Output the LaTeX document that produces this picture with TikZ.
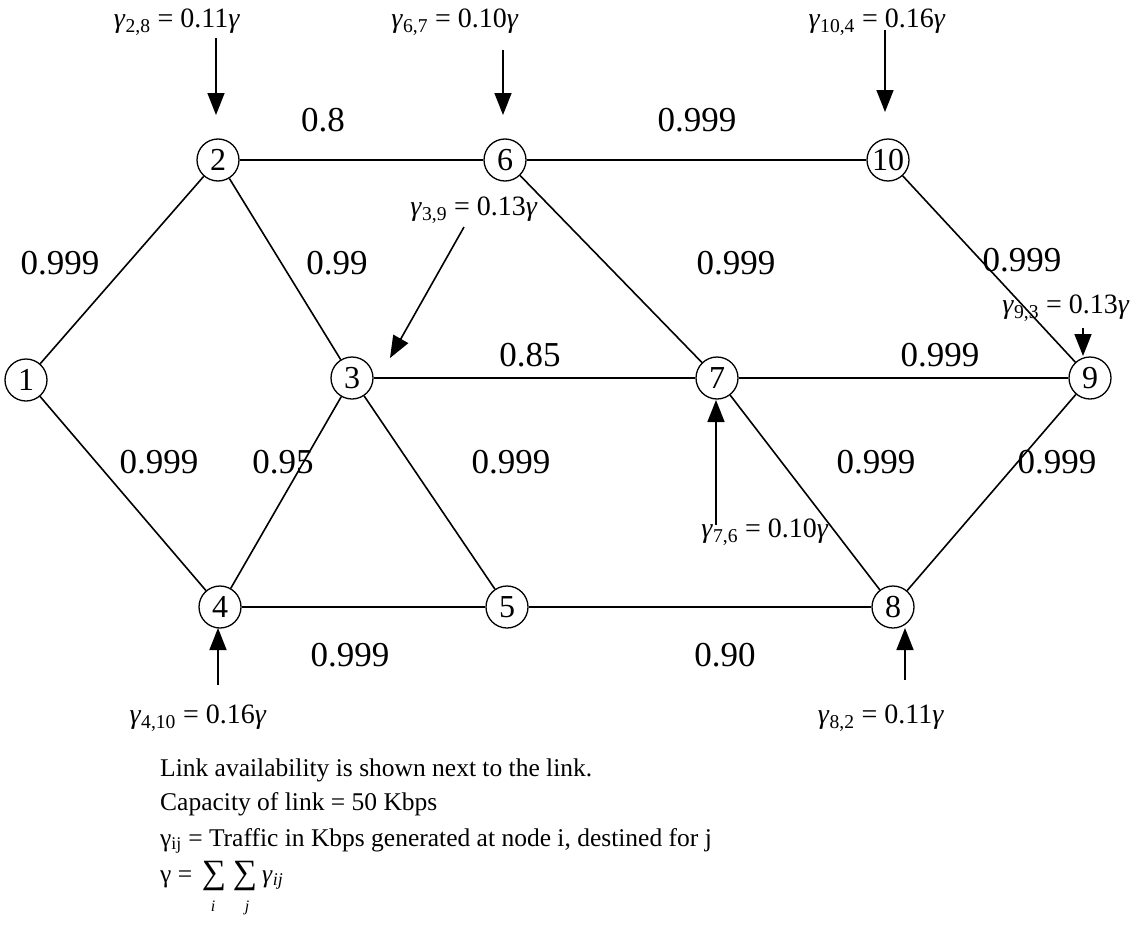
\documentclass[tikz,border=0pt]{standalone}
\usepackage{fontspec}
\setmainfont{Liberation Serif}
\usetikzlibrary{arrows.meta}
\newcommand\gm{\textit{γ}}
\begin{document}
\begin{tikzpicture}[x=1pt,y=-1pt,
  vtx/.style={circle,draw,line width=1.3pt,minimum size=42pt,inner sep=0pt,font=\fontsize{32}{32}\selectfont},
  link/.style={line width=1.6pt},
  lbl/.style={font=\fontsize{35}{35}\selectfont,inner sep=0pt},
  traf/.style={font=\fontsize{28}{28}\selectfont,inner sep=0pt},
  inarrow/.style={line width=1.6pt,-{Triangle[length=22pt,width=17pt]}},
  note/.style={font=\fontsize{25.5}{30}\selectfont,anchor=base west,inner sep=0pt},
  sumop/.style={font=\fontsize{34}{34}\selectfont,inner sep=0pt},
  idx/.style={font=\fontsize{16}{16}\selectfont\itshape,inner sep=0pt}]
\useasboundingbox (0,0) rectangle (1145,934);

% nodes
\node[vtx] (n1)  at (26,380)  {1};
\node[vtx] (n2)  at (218,160) {2};
\node[vtx] (n6)  at (505,160) {6};
\node[vtx] (n10) at (888,160) {10};
\node[vtx] (n3)  at (352,378) {3};
\node[vtx] (n7)  at (717,378) {7};
\node[vtx] (n9)  at (1090,378) {9};
\node[vtx] (n4)  at (220,607) {4};
\node[vtx] (n5)  at (507,607) {5};
\node[vtx] (n8)  at (893,607) {8};

% links
\draw[link] (n1) -- (n2);
\draw[link] (n1) -- (n4);
\draw[link] (n2) -- (n6);
\draw[link] (n2) -- (n3);
\draw[link] (n6) -- (n10);
\draw[link] (n6) -- (n7);
\draw[link] (n10) -- (n9);
\draw[link] (n3) -- (n7);
\draw[link] (n3) -- (n4);
\draw[link] (n3) -- (n5);
\draw[link] (n7) -- (n9);
\draw[link] (n7) -- (n8);
\draw[link] (n9) -- (n8);
\draw[link] (n4) -- (n5);
\draw[link] (n5) -- (n8);

% link availabilities
\node[lbl] (a26)  at (323,120)  {0.8};
\node[lbl] (a610) at (697,120)  {0.999};
\node[lbl] (a12)  at (60,263)   {0.999};
\node[lbl] (a23)  at (337,263)  {0.99};
\node[lbl] (a67)  at (736,263)  {0.999};
\node[lbl] (a109) at (1022,260) {0.999};
\node[lbl] (a37)  at (530,355)  {0.85};
\node[lbl] (a79)  at (940,355)  {0.999};
\node[lbl] (a14)  at (159,462)  {0.999};
\node[lbl] (a34)  at (283,462)  {0.95};
\node[lbl] (a35)  at (511,462)  {0.999};
\node[lbl] (a78)  at (876,462)  {0.999};
\node[lbl] (a98)  at (1057,462) {0.999};
\node[lbl] (a45)  at (350,655)  {0.999};
\node[lbl] (a58)  at (725,655)  {0.90};

% traffic labels
\node[traf] (t28)  at (177,22)  {\gm\textsubscript{2,8} = 0.11\gm};
\node[traf] (t67)  at (455,22)  {\gm\textsubscript{6,7} = 0.10\gm};
\node[traf] (t104) at (877,22)  {\gm\textsubscript{10,4} = 0.16\gm};
\node[traf] (t39)  at (474,210) {\gm\textsubscript{3,9} = 0.13\gm};
\node[traf] (t93)  at (1066,308) {\gm\textsubscript{9,3} = 0.13\gm};
\node[traf] (t76)  at (765,532) {\gm\textsubscript{7,6} = 0.10\gm};
\node[traf] (t410) at (198,718) {\gm\textsubscript{4,10} = 0.16\gm};
\node[traf] (t82)  at (881,718) {\gm\textsubscript{8,2} = 0.11\gm};

% traffic arrows
\coordinate (s28) at (216,38);   \coordinate (e28) at (216,115);
\coordinate (s67) at (503,50);   \coordinate (e67) at (503,115);
\coordinate (s104) at (885,30);  \coordinate (e104) at (885,112);
\coordinate (s39) at (464,227);  \coordinate (e39) at (390,358);
\coordinate (s93) at (1083,328); \coordinate (e93) at (1083,356);
\coordinate (s76) at (716,525);  \coordinate (e76) at (716,400);
\coordinate (s410) at (218,685); \coordinate (e410) at (218,628);
\coordinate (s82) at (905,680);  \coordinate (e82) at (905,628);
\draw[inarrow] (s28) -- (e28);
\draw[inarrow] (s67) -- (e67);
\draw[inarrow] (s104) -- (e104);
\draw[inarrow] (s39) -- (e39);
\draw[inarrow] (s93) -- (e93);
\draw[inarrow] (s76) -- (e76);
\draw[inarrow] (s410) -- (e410);
\draw[inarrow] (s82) -- (e82);

% notes
\node[note] (l1) at (160,776) {Link availability is shown next to the link.};
\node[note] (l2) at (160,810) {Capacity of link = 50 Kbps};
\node[note] (l3) at (160,846) {γ\textsubscript{ij} = Traffic in Kbps generated at node i, destined for j};
\node[note] (l4) at (160,882) {γ =};
\node[sumop] (s1) at (214,876) {∑};
\node[idx]   (si) at (213,906) {i};
\node[sumop] (s2) at (245,876) {∑};
\node[idx]   (sj) at (247,908) {j};
\node[note] (gij) at (262,882) {\gm\textsubscript{\textit{ij}}};
\end{tikzpicture}
\end{document}
